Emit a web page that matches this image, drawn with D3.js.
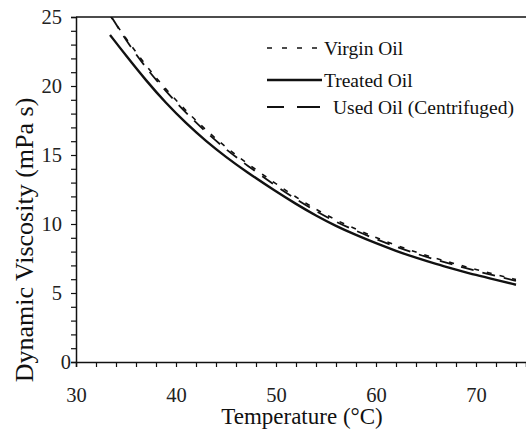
<!DOCTYPE html>
<html>
<head>
<meta charset="utf-8">
<script src="https://cdn.jsdelivr.net/npm/d3@7"></script>
</head>
<body style="margin:0; background:#fff">
<div id="chart"></div>
<script>
// series (temperature in °C, viscosity in mPa s)
var virginTemp = [33.4, 35, 37, 39, 41, 43, 45, 47, 50, 52, 54, 56, 58, 60, 62, 64, 66, 68, 70, 72, 74];
var virginVisc = [25.1, 23.45, 21.45, 19.75, 18.2, 16.8, 15.55, 14.45, 12.9, 11.95, 11.05, 10.28, 9.62, 9.02, 8.46, 7.96, 7.5, 7.1, 6.7, 6.33, 5.98];

var treatedTemp = [33.4, 35, 37, 39, 41, 43, 45, 47, 50, 52, 54, 56, 58, 60, 62, 64, 66, 68, 70, 72, 74];
var treatedVisc = [23.7, 22.2, 20.4, 18.75, 17.3, 16.0, 14.85, 13.8, 12.35, 11.45, 10.6, 9.85, 9.2, 8.6, 8.05, 7.55, 7.1, 6.7, 6.3, 5.95, 5.6];

var usedTemp = [33.6, 35, 37, 39, 41, 43, 45, 47, 50, 52, 54, 56, 58, 60, 62, 64, 66, 68, 70, 72, 74];
var usedVisc = [24.95, 23.3, 21.3, 19.6, 18.05, 16.65, 15.4, 14.3, 12.75, 11.8, 10.92, 10.15, 9.5, 8.9, 8.35, 7.85, 7.4, 7.0, 6.6, 6.23, 5.88];

var seriesNames = ["Virgin Oil", "Treated Oil", "Used Oil (Centrifuged)"];
var xTickLabels = [30, 40, 50, 60, 70];
var yTickLabels = [0, 5, 10, 15, 20, 25];

var serif = "'Liberation Serif', 'Times New Roman', serif";

var svgWidth = 526;
var svgHeight = 432;
var margin = { top: 17, right: 0, bottom: 70, left: 76 };
var width = svgWidth - margin.left - margin.right;
var height = svgHeight - margin.top - margin.bottom;

var svg = d3.select("#chart")
  .append("svg")
  .attr("width", svgWidth)
  .attr("height", svgHeight)
  .attr("font-family", serif);

var chartGroup = svg.append("g")
  .attr("transform", `translate(${margin.left}, ${margin.top})`);

var xScale = d3.scaleLinear().domain([30, 75]).range([0, width]);
var yScale = d3.scaleLinear().domain([0, 25]).range([height, 0]);

// axes: minor ticks every 2 °C and every 1 mPa s, labels on the majors only
var bottomAxis = d3.axisBottom(xScale)
  .tickValues(d3.range(30, 75, 2))
  .tickSize(5)
  .tickPadding(20)
  .tickFormat(d => xTickLabels.includes(d) ? d : "");

var leftAxis = d3.axisLeft(yScale)
  .tickValues(d3.range(0, 26, 1))
  .tickSize(5)
  .tickPadding(9)
  .tickFormat(d => yTickLabels.includes(d) ? d : "");

var xAxisG = chartGroup.append("g")
  .attr("transform", `translate(0, ${height})`)
  .call(bottomAxis);

var yAxisG = chartGroup.append("g")
  .call(leftAxis);

[xAxisG, yAxisG].forEach(function(g) {
  g.attr("font-family", serif).attr("font-size", 20.5);
  g.select(".domain").attr("stroke", "#111").attr("stroke-width", 1.5);
  g.selectAll(".tick line").attr("stroke", "#111").attr("stroke-width", 1.2);
  g.selectAll(".tick text").attr("fill", "#222");
});
// the zero label sits closer to the axis in the original
yAxisG.selectAll(".tick text").filter(d => d === 0).attr("x", -5);

// top frame line
chartGroup.append("line")
  .attr("x1", 0).attr("x2", width)
  .attr("y1", 0).attr("y2", 0)
  .attr("stroke", "#111").attr("stroke-width", 1.5);

// curves
chartGroup.append("clipPath").attr("id", "clip")
  .append("rect").attr("x", 0).attr("y", 0).attr("width", width).attr("height", height);

var line = d3.line()
  .x(d => xScale(d[0]))
  .y(d => yScale(d[1]))
  .curve(d3.curveBasis);

var series = [
  { name: seriesNames[0], pts: d3.zip(virginTemp, virginVisc), dash: "5,8", w: 1.6, legDash: "5,10", legLen: 52, tx: 57 },
  { name: seriesNames[1], pts: d3.zip(treatedTemp, treatedVisc), dash: null, w: 2.4, legDash: null, legLen: 55, tx: 57 },
  { name: seriesNames[2], pts: d3.zip(usedTemp, usedVisc), dash: "13,9", w: 1.8, legDash: "17,13,23,10", legLen: 53, tx: 66 }
];

series.forEach(function(s) {
  chartGroup.append("path")
    .datum(s.pts)
    .attr("clip-path", "url(#clip)")
    .attr("fill", "none")
    .attr("stroke", "#111")
    .attr("stroke-width", s.w)
    .attr("stroke-dasharray", s.dash)
    .attr("d", line);
});

// legend
var legend = svg.append("g").attr("transform", "translate(267, 48)");
var legendRows = legend.selectAll("g").data(series).enter()
  .append("g")
  .attr("transform", (d, i) => `translate(0, ${[0, 32, 59][i]})`);

legendRows.append("line")
  .attr("x1", 0).attr("x2", d => d.legLen)
  .attr("y1", 0).attr("y2", 0)
  .attr("stroke", "#111")
  .attr("stroke-width", d => d.w)
  .attr("stroke-dasharray", d => d.legDash);

legendRows.append("text")
  .attr("x", d => d.tx)
  .attr("y", 7)
  .attr("font-size", 19.5)
  .attr("fill", "#111")
  .text(d => d.name);

// axis titles
svg.append("text")
  .attr("x", 302)
  .attr("y", 424)
  .attr("text-anchor", "middle")
  .attr("font-size", 23)
  .attr("fill", "#111")
  .text("Temperature (°C)");

svg.append("text")
  .attr("transform", "rotate(-90)")
  .attr("x", -240)
  .attr("y", 33)
  .attr("text-anchor", "middle")
  .attr("font-size", 26)
  .attr("fill", "#111")
  .text("Dynamic Viscosity (mPa s)");
</script>
</body>
</html>
